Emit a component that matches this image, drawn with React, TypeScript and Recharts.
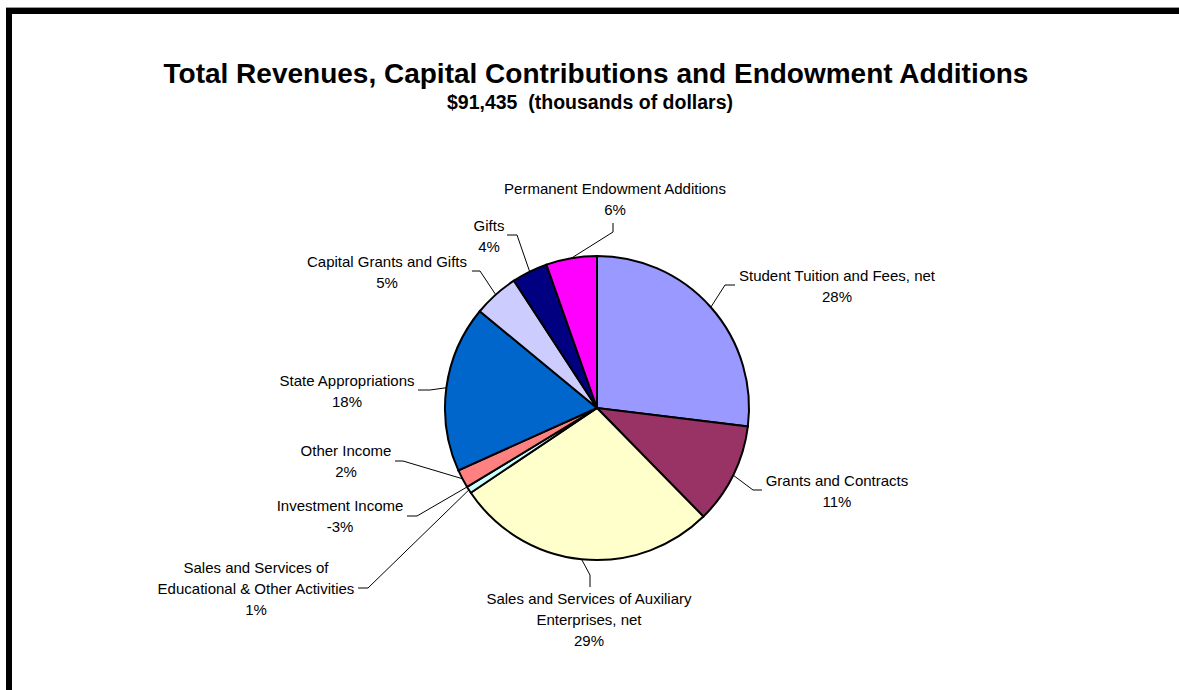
import React from 'react';
import { PieChart, Pie, Cell } from 'recharts';

// revenue sources, thousands of dollars (clockwise from 12 o'clock)
const categories = [
  'Student Tuition and Fees, net',
  'Grants and Contracts',
  'Sales and Services of Auxiliary\nEnterprises, net',
  'Sales and Services of\nEducational & Other Activities',
  'Investment Income',
  'Other Income',
  'State Appropriations',
  'Capital Grants and Gifts',
  'Gifts',
  'Permanent Endowment Additions',
];
const amounts = [25420, 10120, 26360, 680, -2940, 1855, 16710, 4550, 3580, 5100];
const total = amounts.reduce((s, v) => s + v, 0); // 91,435

const colors = [
  '#9999FF', '#993366', '#FFFFCC', '#CCFFFF', '#660066',
  '#FF8080', '#0066CC', '#CCCCFF', '#000080', '#FF00FF',
];

// label block centre + leader elbow/tail, relative to pie centre
const labelLayout = [
  { text: [240, -133], elbow: [128, -123], tail: [138, -123] },
  { text: [240, 72], elbow: [156, 82], tail: [165, 82] },
  { text: [-8, 190], elbow: [-7, 167], tail: [-7, 179] },
  { text: [-341, 159], elbow: [-229, 180], tail: [-239, 180] },
  { text: [-257, 97], elbow: [-180, 108], tail: [-190, 108] },
  { text: [-251, 42], elbow: [-194, 53], tail: [-202, 53] },
  { text: [-250, -28], elbow: [-167, -18], tail: [-179, -18] },
  { text: [-210, -147], elbow: [-117, -137], tail: [-125, -137] },
  { text: [-108, -183], elbow: [-80, -173], tail: [-90, -173] },
  { text: [18, -220], elbow: [16, -176], tail: [16, -185] },
];

// Excel leaves negative slices out of the drawing
const data = categories.map((name, i) => ({
  name,
  value: Math.max(amounts[i], 0),
  pct: Math.round((amounts[i] / total) * 100),
}));

const FONT = '"Liberation Sans", Arial, sans-serif';
const RAD = Math.PI / 180;

const renderLabel = (props: any) => {
  const { cx, cy, midAngle, outerRadius, index } = props;
  const sx = cx + outerRadius * Math.cos(-midAngle * RAD);
  const sy = cy + outerRadius * Math.sin(-midAngle * RAD);
  const lay = labelLayout[index];
  const lines = [...categories[index].split('\n'), `${data[index].pct}%`];
  return (
    <g key={`lbl-${index}`}>
      <polyline
        points={`${sx},${sy} ${cx + lay.elbow[0]},${cy + lay.elbow[1]} ${cx + lay.tail[0]},${cy + lay.tail[1]}`}
        fill="none"
        stroke="#000"
        strokeWidth={1}
      />
      {lines.map((line, i) => (
        <text
          key={i}
          x={cx + lay.text[0]}
          y={cy + lay.text[1] + i * 21}
          textAnchor="middle"
          dominantBaseline="central"
          fontFamily={FONT}
          fontSize={15}
          fill="#000"
        >
          {line}
        </text>
      ))}
    </g>
  );
};

const App: React.FC = () => {
  return (
    <div style={{ position: 'absolute', left: 0, top: 0, width: 1179, height: 690, background: '#fff' }}>
      <div style={{ position: 'absolute', left: 6, top: 7, width: 1173, height: 1, background: '#999' }} />
      <div style={{ position: 'absolute', left: 6, top: 8, width: 1173, height: 6, background: '#000' }} />
      <div style={{ position: 'absolute', left: 6, top: 8, width: 6, height: 682, background: '#000' }} />
      <div style={{ position: 'absolute', left: 0, top: 0 }}>
        <PieChart width={1179} height={690} margin={{ top: 0, right: 0, bottom: 0, left: 0 }}>
          <text x={596} y={83} textAnchor="middle" fontFamily={FONT} fontWeight="bold" fontSize={28} fill="#000">
            Total Revenues, Capital Contributions and Endowment Additions
          </text>
          <text x={590} y={109} textAnchor="middle" fontFamily={FONT} fontWeight="bold" fontSize={19.5} fill="#000" style={{ whiteSpace: 'pre' }}>
            {`$${total.toLocaleString('en-US')}  (thousands of dollars)`}
          </text>
          <Pie
            data={data}
            dataKey="value"
            nameKey="name"
            cx={597}
            cy={408}
            outerRadius={152}
            startAngle={90}
            endAngle={-270}
            stroke="#000"
            strokeWidth={2}
            label={renderLabel}
            labelLine={false}
            isAnimationActive={false}
          >
            {data.map((d, i) => (
              <Cell key={d.name} fill={colors[i]} />
            ))}
          </Pie>
        </PieChart>
      </div>
    </div>
  );
};

export default App;
